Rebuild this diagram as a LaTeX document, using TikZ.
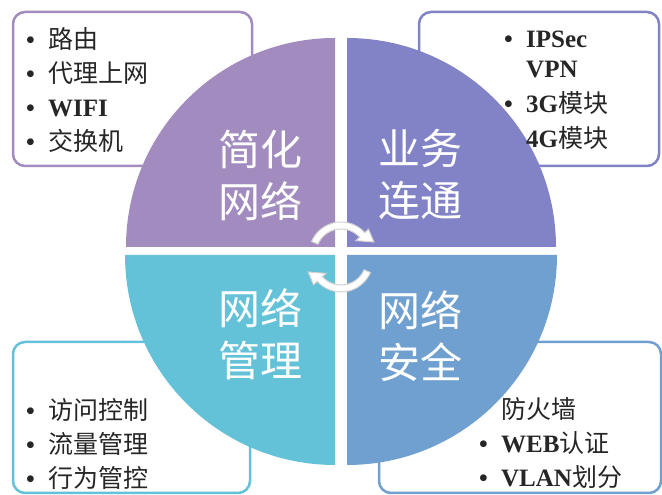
\documentclass[tikz,border=0pt]{standalone}
\usepackage{fontspec}
\setmainfont{Liberation Serif}
\newfontfamily\cjk{Noto Sans CJK SC}

\definecolor{qpurple}{HTML}{A28BBE}
\definecolor{qviolet}{HTML}{8183C6}
\definecolor{qteal}{HTML}{63C1D8}
\definecolor{qblue}{HTML}{70A0D0}

\newcommand{\itm}{\makebox[22pt][l]{\textbf{•}}}
\newcommand{\cycarrow}[2]{%
	\fill[cyc, shift={#1}, rotate=#2] (157:32) arc[start angle=157, end angle=42, radius=32]
		-- (42:37) -- (20:35) -- (42:20) -- (42:25)
		arc[start angle=42, end angle=157, radius=25] -- cycle;%
}

\begin{document}
\begin{tikzpicture}[%
					x=1pt, y=1pt,
					itembox/.style={%
						draw=#1,
						line width=2.5pt,
						fill=white,
						rounded corners=12pt
					},
					bigtext/.style={%
						text=white,
						align=center,
						inner sep=0pt,
						font=\cjk\fontsize{42}{52}\selectfont
					},
					itemtext/.style={%
						align=left,
						inner sep=0pt,
						anchor=base west,
						text=black!85,
						font=\fontsize{25}{34}\selectfont
					},
					cyc/.style={fill=white, draw=black!18, line width=1pt}
				]
				\useasboundingbox (0, 0) rectangle (662, 495);

				% boxes behind the circle
				\draw[itembox=qpurple] (13, 329) rectangle (252, 483);
				\draw[itembox=qviolet] (419, 329) rectangle (659, 483);
				\draw[itembox=qteal] (13, 2) rectangle (250, 153);
				\draw[itembox=qblue] (379, 2) rectangle (661, 153);

				% quarters
				\fill[qpurple] (335, 248) -- ++(-209, 0) arc[start angle=180, end angle=90, radius=209] -- cycle;
				\fill[qviolet] (347, 248) -- ++(0, 209) arc[start angle=90, end angle=0, radius=209] -- cycle;
				\fill[qteal] (335, 240) -- ++(0, -210) arc[start angle=270, end angle=180, radius=210] -- cycle;
				\fill[qblue] (347, 240) -- ++(210, 0) arc[start angle=0, end angle=-90, radius=210] -- cycle;

				\node[bigtext] (simple) at (260, 320) {简化\\网络};
				\node[bigtext] (link) at (420, 320) {业务\\连通};
				\node[bigtext] (manage) at (260, 161) {网络\\管理};
				\node[bigtext] (secure) at (420, 159) {网络\\安全};

				\cycarrow{(341, 241)}{0}
				\cycarrow{(341, 235)}{180}

				% base anchor sits on the last line
				\node[itemtext] (simpleitems) at (26, 344) {%
					\itm{\cjk 路由}\\
					\itm{\cjk 代理上网}\\
					\itm\textbf{WIFI}\\
					\itm{\cjk 交换机}
				};

				\node[itemtext, font=\fontsize{25}{35}\selectfont] (linkitems) at (504, 347) {%
					\itm\textbf{IPSec}\\[-5pt]
					\hspace*{22pt}\textbf{VPN}\\
					\itm\textbf{3G}{\cjk 模块}\\
					\hspace*{22pt}\textbf{4G}{\cjk 模块}
				};

				\node[itemtext] (manageitems) at (26, 7) {%
					\itm{\cjk 访问控制}\\
					\itm{\cjk 流量管理}\\
					\itm{\cjk 行为管控}
				};

				\node[itemtext] (secureitems) at (479, 8) {%
					\hspace*{22pt}{\cjk 防火墙}\\
					\itm\textbf{WEB}{\cjk 认证}\\
					\itm\textbf{VLAN}{\cjk 划分}
				};
			\end{tikzpicture}
\end{document}
